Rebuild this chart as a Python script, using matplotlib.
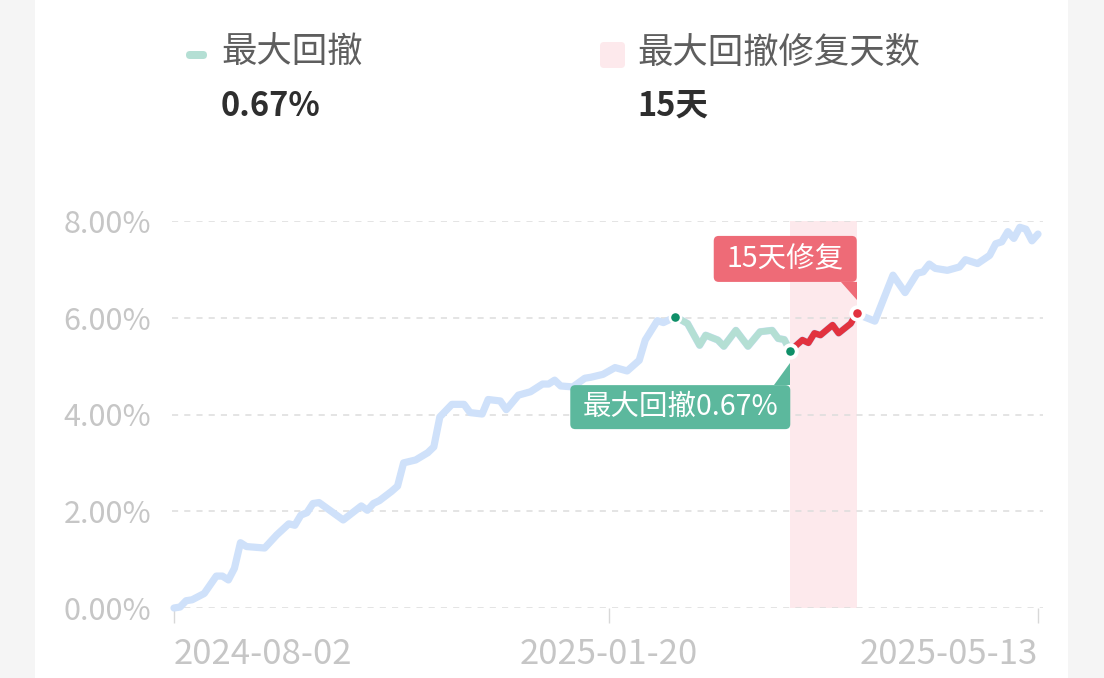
import matplotlib
matplotlib.use('Agg')
import matplotlib.pyplot as plt
from matplotlib.patches import FancyBboxPatch, Polygon, Rectangle
from matplotlib.transforms import IdentityTransform

# ---------------- data ----------------
obs = [0, 1, 2, 3, 5, 7, 8, 9, 10, 11, 12, 15, 17, 19, 20, 21, 22, 23, 24, 28,
       31, 32, 33, 34, 36, 37, 38, 40, 42, 43, 44, 46, 48, 49, 51, 52, 54, 55, 57, 59,
       61, 62, 63, 64, 66, 68, 69, 71, 73, 75, 77, 78, 80, 81, 83, 85, 87, 88, 90, 91,
       93, 95, 97, 99, 100, 101, 102, 103, 104, 105, 106, 107, 109, 110, 112, 113, 114, 116, 119, 121,
       123, 124, 125, 126, 128, 130, 131, 133, 135, 136, 137, 138, 139, 140, 141, 142, 143]
ret = [0.00, 0.02, 0.15, 0.17, 0.30, 0.66, 0.66, 0.58, 0.82, 1.35, 1.27, 1.24, 1.51, 1.74, 1.71, 1.92, 1.97, 2.16, 2.18, 1.82,
       2.11, 2.02, 2.16, 2.22, 2.41, 2.52, 3.00, 3.06, 3.21, 3.33, 3.95, 4.21, 4.21, 4.04, 4.01, 4.31, 4.28, 4.10, 4.40, 4.47,
       4.63, 4.63, 4.71, 4.59, 4.57, 4.75, 4.77, 4.83, 4.97, 4.90, 5.12, 5.54, 5.94, 5.90, 6.02, 5.88, 5.43, 5.64, 5.54, 5.41,
       5.74, 5.41, 5.71, 5.74, 5.57, 5.55, 5.31, 5.43, 5.54, 5.48, 5.68, 5.64, 5.85, 5.68, 5.88, 6.10, 6.03, 5.93, 6.88, 6.52,
       6.92, 6.95, 7.11, 7.02, 6.98, 7.05, 7.20, 7.12, 7.29, 7.53, 7.57, 7.78, 7.64, 7.87, 7.83, 7.59, 7.73]
tick_obs = [0, 72, 143]
tick_dates = ['2024-08-02', '2025-01-20', '2025-05-13']
y_ticks = [0, 2, 4, 6, 8]
peak_obs, trough_obs, recover_obs = 83, 102, 113
max_drawdown = '0.67%'
repair_days = '15天'

# ---------------- style ----------------
plt.rcParams['font.family'] = ['Noto Sans CJK SC', 'DejaVu Sans']
W, H = 1104, 678
BLUE = '#cfe1fa'
GREEN_LINE = '#b4dfd4'
GREEN_DOT = '#0f8f68'
RED_LINE = '#e2323f'
RED_DOT = '#e2323f'
PINK = '#fde9ec'
GREEN_BOX = '#5cb89d'
RED_BOX = '#ee6b77'
AXIS_TXT = '#c6c6c6'
GRID = '#dcdcdc'

fig = plt.figure(figsize=(W / 100, H / 100), dpi=100)
fig.patch.set_facecolor('#f5f5f5')
fig.add_artist(Rectangle((35 / W, 0), (1068 - 35) / W, 1, transform=fig.transFigure,
                         facecolor='white', edgecolor='none', zorder=0))

ax_l, ax_r, ax_b, ax_t = 172, 1043, 608, 221
ax = fig.add_axes([ax_l / W, (H - ax_b) / H, (ax_r - ax_l) / W, (ax_b - ax_t) / H])
ax.patch.set_alpha(0)
step = (1038 - 174) / 143
ax.set_xlim((ax_l - 174) / step, (ax_r - 174) / step)
ax.set_ylim(0, 8)
for s in ax.spines.values():
    s.set_visible(False)

# grid
for v in y_ticks:
    ax.axhline(v, color=GRID, lw=1.1, ls=(0, (4, 4)), zorder=1)

# recovery band
ax.axvspan(trough_obs, recover_obs, color=PINK, zorder=0.5, lw=0)

# lines
ax.plot(obs, ret, color=BLUE, lw=5.2, solid_joinstyle='round', solid_capstyle='round',
        zorder=2, clip_on=False)
g_x = [o for o in obs if peak_obs <= o <= trough_obs]
g_y = [r for o, r in zip(obs, ret) if peak_obs <= o <= trough_obs]
r_x = [o for o in obs if trough_obs <= o <= recover_obs]
r_y = [r for o, r in zip(obs, ret) if trough_obs <= o <= recover_obs]
ax.plot(g_x, g_y, color=GREEN_LINE, lw=4.8, solid_joinstyle='round', solid_capstyle='round', zorder=3)
ax.plot(r_x, r_y, color=RED_LINE, lw=4.6, solid_joinstyle='round', solid_capstyle='round', zorder=3)

val = dict(zip(obs, ret))
ax.plot([peak_obs], [val[peak_obs]], 'o', ms=8.0, mfc=GREEN_DOT, mec='white', mew=1.8, zorder=5)
ax.plot([trough_obs], [val[trough_obs]], 'o', ms=9.0, mfc=GREEN_DOT, mec='white', mew=2.8, zorder=5)
ax.plot([recover_obs], [val[recover_obs]], 'o', ms=9.0, mfc=RED_DOT, mec='white', mew=2.8, zorder=5)

# axes ticks
ax.set_yticks(y_ticks)
ax.set_yticklabels([f'{v:.2f}%' for v in y_ticks])
ax.tick_params(axis='y', length=0, pad=15, labelsize=22, labelcolor=AXIS_TXT)
ax.set_xticks(tick_obs)
ax.set_xticklabels(tick_dates)
ax.tick_params(axis='x', length=11, width=1, color='#d8d8d8', pad=10, labelsize=25,
               labelcolor=AXIS_TXT)
xl = ax.get_xticklabels()
xl[0].set_ha('left')
xl[-1].set_ha('right')

# ---------------- annotation boxes ----------------
ID = IdentityTransform()


def callout(anchor_obs, box_dx, box_dy, bw, bh, tri, color, text):
    px, py = ax.transData.transform((anchor_obs, val[anchor_obs]))
    box = FancyBboxPatch((px + box_dx, py + box_dy), bw, bh,
                         boxstyle='round,pad=0,rounding_size=5', transform=ID,
                         facecolor=color, edgecolor='none', zorder=6)
    fig.add_artist(box)
    fig.add_artist(Polygon([(px + a, py + b) for a, b in tri], closed=True, transform=ID,
                           facecolor=color, edgecolor='none', zorder=6))
    fig.text(px + box_dx + bw / 2, py + box_dy + bh / 2, text, transform=ID,
             ha='center', va='center', color='white', fontsize=20.5, zorder=7)


callout(trough_obs, -220, -78, 220, 44, [(-16, -34), (0, -34), (0, -12)], GREEN_BOX,
        f'最大回撤{max_drawdown}')
callout(recover_obs, -143, 31, 143, 46, [(-16, 31), (0, 31), (0, 13)], RED_BOX,
        f'{repair_days.replace("天", "")}天修复')

# ---------------- legend ----------------
fig.add_artist(FancyBboxPatch((186, H - 59), 21, 8, boxstyle='round,pad=0,rounding_size=4',
                              transform=ID, facecolor=GREEN_LINE, edgecolor='none'))
fig.text(221, H - 53, '最大回撤', transform=ID, ha='left', va='center',
         fontsize=25.5, color='#5e5e5e', fontweight='medium')
fig.text(221, H - 106, max_drawdown, transform=ID, ha='left', va='center',
         fontsize=23.5, color='#2e2e2e', fontweight='bold')

fig.add_artist(FancyBboxPatch((600, H - 68), 25, 26, boxstyle='round,pad=0,rounding_size=4',
                              transform=ID, facecolor=PINK, edgecolor='none'))
fig.text(637, H - 53, '最大回撤修复天数', transform=ID, ha='left', va='center',
         fontsize=25.5, color='#5e5e5e', fontweight='medium')
fig.text(637, H - 106, repair_days, transform=ID, ha='left', va='center',
         fontsize=23.5, color='#2e2e2e', fontweight='bold')

fig.savefig('out.png', dpi=100, facecolor=fig.get_facecolor())
